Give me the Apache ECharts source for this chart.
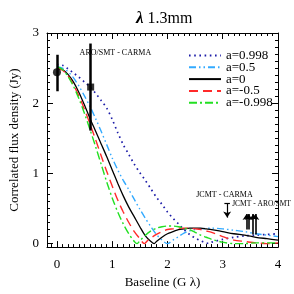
<!DOCTYPE html>
<html><head><meta charset="utf-8">
<script src="https://cdn.jsdelivr.net/npm/echarts@6/dist/echarts.min.js"></script>
<style>html,body{margin:0;padding:0;background:#fff}#c{width:294px;height:294px}</style>
</head><body><div id="c"></div>
<script>
// ---- data ----
const seriesNames = ['a=0.998', 'a=0.5', 'a=0', 'a=-0.5', 'a=-0.998'];
const curveA0998 = [[0,2.55],[0.1,2.54],[0.2,2.49],[0.3,2.43],[0.4,2.37],[0.5,2.30],[0.6,2.23],[0.7,2.14],[0.8,2.04],[0.9,1.93],[1.0,1.77],[1.1,1.58],[1.2,1.41],[1.3,1.27],[1.4,1.13],[1.5,1.01],[1.6,0.90],[1.7,0.78],[1.8,0.66],[1.9,0.56],[2.0,0.45],[2.1,0.36],[2.2,0.28],[2.3,0.20],[2.4,0.13],[2.5,0.08],[2.6,0.04],[2.7,0.01],[2.75,0.0],[2.8,0.02],[3.0,0.06],[3.2,0.09],[3.4,0.11],[3.6,0.12],[3.8,0.13],[4.0,0.14]];
const curveA05 = [[0,2.52],[0.1,2.50],[0.2,2.45],[0.3,2.36],[0.4,2.24],[0.5,2.10],[0.6,1.95],[0.7,1.78],[0.8,1.60],[0.9,1.41],[1.0,1.22],[1.1,1.05],[1.2,0.90],[1.3,0.77],[1.4,0.63],[1.5,0.49],[1.6,0.36],[1.7,0.24],[1.8,0.13],[1.9,0.05],[2.0,0.0],[2.1,0.05],[2.2,0.10],[2.3,0.15],[2.4,0.18],[2.5,0.20],[2.6,0.21],[2.8,0.22],[3.0,0.21],[3.2,0.19],[3.4,0.17],[3.6,0.14],[3.8,0.12],[4.0,0.10]];
const curveA0 = [[0,2.50],[0.1,2.48],[0.2,2.41],[0.3,2.30],[0.4,2.15],[0.5,1.97],[0.6,1.78],[0.7,1.60],[0.8,1.42],[0.9,1.24],[1.0,1.05],[1.1,0.86],[1.2,0.68],[1.3,0.52],[1.4,0.38],[1.5,0.24],[1.6,0.11],[1.7,0.03],[1.76,0.0],[1.8,0.03],[1.9,0.09],[2.0,0.14],[2.1,0.17],[2.2,0.20],[2.3,0.21],[2.4,0.22],[2.5,0.22],[2.6,0.22],[2.7,0.21],[2.8,0.20],[3.0,0.17],[3.2,0.14],[3.4,0.12],[3.6,0.09],[3.8,0.07],[4.0,0.05]];
const curveAm05 = [[0,2.50],[0.1,2.47],[0.2,2.39],[0.3,2.26],[0.4,2.10],[0.5,1.91],[0.6,1.70],[0.7,1.48],[0.8,1.25],[0.9,1.03],[1.0,0.82],[1.1,0.62],[1.2,0.45],[1.3,0.30],[1.4,0.17],[1.5,0.07],[1.58,0.0],[1.65,0.05],[1.7,0.08],[1.8,0.13],[1.9,0.17],[2.0,0.20],[2.1,0.21],[2.2,0.22],[2.3,0.22],[2.4,0.22],[2.5,0.21],[2.6,0.20],[2.7,0.18],[2.8,0.16],[2.9,0.13],[3.0,0.10],[3.2,0.05],[3.4,0.03],[3.6,0.01],[3.8,0.0],[4.0,0.01]];
const curveAm0998 = [[0,2.52],[0.1,2.48],[0.2,2.38],[0.3,2.24],[0.4,2.06],[0.5,1.85],[0.6,1.62],[0.7,1.38],[0.8,1.13],[0.9,0.88],[1.0,0.65],[1.1,0.45],[1.2,0.28],[1.3,0.14],[1.4,0.03],[1.45,0.0],[1.5,0.04],[1.6,0.12],[1.7,0.18],[1.8,0.22],[1.9,0.24],[2.0,0.25],[2.1,0.25],[2.2,0.24],[2.3,0.22],[2.4,0.20],[2.5,0.16],[2.6,0.12],[2.7,0.09],[2.8,0.06],[3.0,0.02],[3.2,0.0],[3.4,0.0],[3.6,0.01],[3.8,0.01],[4.0,0.01]];
// measured points: [x, y, yLow, yHigh]
const circlePoint = [0.0, 2.44, 2.17, 2.69];
const squarePoint = [0.61, 2.23, 1.61, 2.85];
// upper limit (down arrow): [x, yFrom, yTo]
const upperLimits = [[3.08, 0.57, 0.37]];
// lower limits (up arrows): [x, yFrom, yTo]
const lowerLimits = [[3.43, 0.20, 0.42], [3.47, 0.20, 0.42], [3.55, 0.13, 0.42], [3.59, 0.13, 0.42]];
const xLabelValues = [0, 1, 2, 3, 4];
const yLabelValues = [0, 1, 2, 3];
const annotations = [['ARO/SMT - CARMA', 0.41, 2.71, 8], ['JCMT - CARMA', 2.52, 0.70, 8], ['JCMT - ARO/SMT', 3.17, 0.56, 7.5]];

const FONT = 'Liberation Serif';
const xMinor = []; for (let i = -1; i <= 40; i++) xMinor.push(+(i * 0.1).toFixed(2));
const yMinor = []; for (let i = 0; i <= 30; i++) yMinor.push(+(i * 0.1).toFixed(2));
const XMIN = -0.18, XMAX = 4, YMIN = -0.05, YMAX = 3;

function xAx(pos, major, labels) {
  return {
    type: 'value', min: XMIN, max: XMAX, position: pos,
    axisLine: { show: major, onZero: false, lineStyle: { color: '#000', width: 1 } },
    splitLine: { show: false },
    axisTick: { show: true, inside: true, length: major ? 6 : 3, customValues: major ? xLabelValues : xMinor, lineStyle: { color: '#000', width: 1 } },
    axisLabel: { show: labels, customValues: xLabelValues, margin: 11, color: '#000', fontFamily: FONT, fontSize: 13 },
    name: labels ? 'Baseline (G λ)' : '', nameLocation: 'middle', nameGap: 27,
    nameTextStyle: { color: '#000', fontFamily: FONT, fontSize: 13 }
  };
}
function yAx(pos, major, labels) {
  return {
    type: 'value', min: YMIN, max: YMAX, position: pos,
    axisLine: { show: major, onZero: false, lineStyle: { color: '#000', width: 1 } },
    splitLine: { show: false },
    axisTick: { show: true, inside: true, length: major ? 6 : 3, customValues: major ? yLabelValues : yMinor, lineStyle: { color: '#000', width: 1 } },
    axisLabel: { show: labels, customValues: yLabelValues, margin: 8, color: '#000', fontFamily: FONT, fontSize: 13 },
    name: labels ? 'Correlated flux density (Jy)' : '', nameLocation: 'middle', nameGap: 26,
    nameTextStyle: { color: '#000', fontFamily: FONT, fontSize: 13 }
  };
}

function lineSeries(name, data, color, dash, width) {
  return {
    name, type: 'line', data, symbol: 'none', smooth: 0.3, xAxisIndex: 0, yAxisIndex: 0,
    lineStyle: { color, width: width || 1.4, type: dash, cap: 'butt' },
    itemStyle: { color }, z: 3, animation: false
  };
}

const markLines = [];
function seg(x1, y1, x2, y2, s1, s2, w) {
  markLines.push([{ coord: [x1, y1], symbol: s1 || 'none', symbolSize: 6, lineStyle: { width: w || 1.6, color: '#000', type: 'solid' } },
                  { coord: [x2, y2], symbol: s2 || 'none', symbolSize: 6 }]);
}
[circlePoint, squarePoint].forEach(p => seg(p[0], p[2], p[0], p[3], 'none', 'none', 2.5));
upperLimits.forEach(a => { seg(a[0] - 0.05, a[1], a[0] + 0.05, a[1], 'none', 'none', 1.2); seg(a[0], a[1], a[0], a[2], 'none', 'arrow', 1.2); });
lowerLimits.forEach(a => { seg(a[0], a[1], a[0], a[2], 'none', 'arrow'); });

const chart = echarts.init(document.getElementById('c'), null, { renderer: 'canvas' });
chart.setOption({
  animation: false,
  backgroundColor: '#fff',
  title: {
    text: '{l|λ} 1.3mm', left: 131, top: 5,
    textStyle: { fontFamily: FONT, fontSize: 16, fontWeight: 'normal', color: '#000',
      rich: { l: { fontFamily: FONT, fontSize: 17, fontStyle: 'italic', fontWeight: 'bold', color: '#000' } } }
  },
  grid: { left: 45, top: 33, right: 16, bottom: 45, containLabel: false },
  legend: {
    orient: 'vertical', left: 188, top: 49, itemWidth: 32, itemHeight: 8, itemGap: -1.2,
    data: seriesNames,
    itemStyle: { color: 'transparent', borderColor: 'transparent', borderWidth: 0, opacity: 0 },
    textStyle: { fontFamily: FONT, fontSize: 13, color: '#000', lineHeight: 11.5, height: 11.5, padding: 0 },
    padding: 0, selectedMode: false
  },
  xAxis: [xAx('bottom', true, true), xAx('bottom', false, false), xAx('top', true, false), xAx('top', false, false)],
  yAxis: [yAx('left', true, true), yAx('left', false, false), yAx('right', true, false), yAx('right', false, false)],
  series: [
    lineSeries(seriesNames[0], curveA0998, '#1c1ca8', [1.6, 3.6], 1.7),
    lineSeries(seriesNames[1], curveA05, '#33aaff', [7, 3, 1.5, 3, 1.5, 3]),
    lineSeries(seriesNames[2], curveA0, '#000000', 'solid', 1.3),
    lineSeries(seriesNames[3], curveAm05, '#ff2a2a', [9, 5]),
    lineSeries(seriesNames[4], curveAm0998, '#22e022', [8, 3, 2, 3]),
    {
      type: 'scatter', data: [[circlePoint[0], circlePoint[1]]], symbol: 'circle', symbolSize: 8,
      itemStyle: { color: '#000' }, z: 5, animation: false, silent: true,
      markLine: { silent: true, animation: false, label: { show: false }, symbol: ['none', 'none'], data: markLines }
    },
    {
      type: 'scatter', data: [[squarePoint[0], squarePoint[1]]], symbol: 'rect', symbolSize: 7,
      itemStyle: { color: '#000' }, z: 5, animation: false, silent: true
    }
  ]
});
// annotation texts, anchored in data coordinates
chart.setOption({
  graphic: annotations.map(a => {
    const p = chart.convertToPixel({ xAxisIndex: 0, yAxisIndex: 0 }, [a[1], a[2]]);
    return { type: 'text', x: p[0], y: p[1], z: 10, silent: true,
      style: { text: a[0], fontFamily: FONT, fontSize: a[3], fill: '#000', textVerticalAlign: 'middle', textAlign: 'left' } };
  })
});
</script></body></html>
